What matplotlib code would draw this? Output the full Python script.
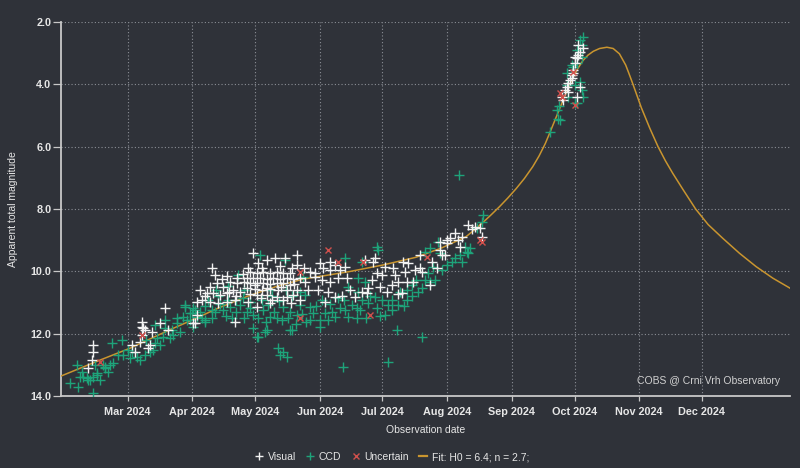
import numpy as np
import matplotlib
matplotlib.use("Agg")
import matplotlib.pyplot as plt
import matplotlib.dates as mdates
from matplotlib.lines import Line2D

# ---------------- data (day of year 2024, 0 = Jan 1; magnitude) ----------------
ccd_day = [35.6, 38.7, 32.4, 36.3, 40.4, 43.5, 45.2, 42.0, 38.0, 44.3, 48.3, 51.5, 53.1, 49.1, 43.5,
           52.3, 57.1, 57.9, 61.1, 61.9, 64.3, 65.9, 68.3, 70.7, 73.1, 73.9, 75.5, 77.1, 80.3, 81.8,
           85.1, 83.5, 87.4, 88.3, 90.7, 92.2, 91.4, 93.0, 77.9, 73.1, 72.3, 37.2, 41.1, 45.2, 49.1,
           86.6, 89.8, 87.4, 97.0, 83.5, 89.8, 95.5, 97.0, 91.4, 94.6, 101.8, 105.8, 109.0, 113.8, 113.0,
           117.0, 120.2, 124.9, 128.2, 131.4, 137.7, 141.0, 134.5, 120.2, 126.6, 137.7, 122.6, 132.1, 134.5, 132.9,
           136.2, 123.4, 135.3, 144.1, 147.3, 147.3, 148.9, 142.5, 115.4, 118.6, 125.8, 138.5, 121.8,
           179.3, 180.0, 164.1, 172.1, 170.5, 173.7, 165.7, 170.5, 178.5, 181.7, 186.5, 175.2, 167.3, 161.7,
           164.1, 157.7, 169.7, 179.3, 184.8, 154.5, 159.3, 165.7, 169.7, 183.2, 189.6, 152.1, 156.1, 152.1,
           188.8, 200.8, 163.3, 184.8, 196.0, 200.8, 204.8, 204.0, 206.4, 212.8, 202.4, 204.8, 208.8, 219.2,
           222.4, 220.0, 216.8, 194.0, 190.4, 199.2, 193.6, 202.4, 229.6, 227.2, 223.1, 221.6, 230.3, 209.6, 218.7,
           262.3, 266.2, 266.7, 270.3, 273.4, 276.6, 278.2, 277.5, 276.6, 277.5, 278.2, 275.1, 271.0, 275.1,
           265.5, 270.3, 277.5, 275.1, 272.7, 267.1, 274.3,
           98.5, 103.3, 108.0, 110.0, 100.4, 115.7, 124.4, 129.2, 132.5, 138.7, 142.5, 127.2, 145.0,
           97.0, 100.4, 104.2, 107.1, 111.9, 115.7, 118.6, 122.5, 126.2, 130.1, 133.9, 136.8, 140.6, 143.5,
           145.5, 150.2, 153.1, 156.9, 160.8, 163.6, 172.2, 176.1, 171.3, 174.2, 180.8, 186.6, 192.4, 196.3,
           198.2, 207.4, 210.5, 215.4, 224.0, 111.9, 128.2, 135.7, 102.3, 108.0,
           46.7, 50.6, 55.4, 60.1, 68.8, 77.9, 81.2, 274.2]
ccd_mag = [13.00, 13.38, 13.59, 13.70, 13.43, 13.38, 13.27, 13.48, 13.22, 13.00, 13.00, 13.00, 12.95, 13.11, 13.91,
           12.31, 12.20, 12.68, 12.79, 12.58, 12.74, 12.84, 12.68, 12.58, 12.31, 12.15, 12.36, 12.10, 12.15, 12.04,
           11.94, 11.67, 11.08, 11.56, 11.35, 11.24, 11.78, 11.45, 11.83, 11.72, 12.52, 13.38, 13.48, 13.33, 13.06,
           11.45, 11.35, 11.13, 11.61, 11.51, 11.56, 11.50, 11.56, 11.18, 11.29, 11.29, 11.24, 11.13, 11.08, 10.12,
           11.29, 11.40, 11.24, 11.45, 11.51, 11.29, 11.40, 11.13, 11.83, 11.88, 11.88, 12.10, 12.47, 12.58, 12.68,
           12.74, 9.47, 9.64, 10.17, 11.13, 11.56, 11.35, 11.08, 10.86, 10.97, 11.94, 11.88, 12.10,
           9.21, 9.31, 9.58, 9.69, 10.22, 10.33, 10.49, 10.65, 10.81, 10.92, 10.92, 11.02, 11.08, 11.18,
           11.24, 11.29, 11.18, 11.18, 11.08, 11.35, 11.45, 11.45, 11.51, 11.40, 11.08, 11.56, 11.56, 11.78,
           11.88, 12.10, 13.06, 12.90, 10.44, 10.54, 10.33, 10.06, 9.85, 9.80, 9.37, 9.26, 9.05, 9.47,
           9.37, 9.69, 9.58, 10.60, 10.65, 10.65, 10.92, 10.28, 8.41, 8.62, 9.42, 9.21, 8.19, 9.42, 6.91,
           5.52, 5.11, 4.69, 3.65, 3.43, 2.58, 2.47, 3.11, 3.92, 4.18, 4.40, 4.61, 4.40, 3.32,
           4.82, 4.02, 2.74, 2.90, 3.38, 5.14, 4.61,
           10.92, 10.79, 10.92, 11.50, 11.50, 10.60, 10.92, 10.79, 10.95, 10.79, 10.66, 11.08, 10.76,
           11.11, 11.24, 11.05, 11.43, 11.30, 11.50, 11.18, 11.50, 11.62, 11.30, 11.56, 11.50, 11.69, 11.37,
           11.62, 11.11, 10.92, 11.05, 10.85, 10.92, 10.92, 10.79, 11.24, 11.50, 11.43, 11.24, 11.11, 10.79,
           10.28, 10.28, 9.96, 9.70, 9.25, 10.92, 10.60, 10.60, 10.60, 10.47,
           13.49, 13.23, 12.68, 12.52, 12.20, 11.56, 11.88, 4.02]

vis_day = [41.1, 42.8, 43.5, 43.5, 61.9, 63.5, 65.9, 66.7, 66.7, 66.7, 68.3, 69.9, 70.7, 71.5, 75.5,
           77.9, 79.4, 93.0, 91.4, 67.5,
           120.2, 141.0, 135.3, 130.6, 126.6, 122.6, 141.0, 100.2, 101.8, 107.4, 112.2, 118.6, 121.8, 124.9,
           128.2, 131.4, 134.5, 137.7, 117.0, 120.2, 123.4, 126.6, 129.7, 133.0, 136.2, 139.3, 118.6, 121.8,
           124.9, 128.2, 131.4, 134.5, 137.7, 117.0, 121.0, 124.2, 128.2, 132.1, 136.2, 141.0, 121.8, 126.6,
           131.4, 136.2, 139.3, 117.8, 128.2, 99.4, 102.6, 105.8, 97.8, 101.0, 104.2, 107.4, 110.6, 95.4,
           99.4, 103.4, 107.4, 111.4, 112.2, 109.0, 92.2, 111.4, 147.3, 149.7, 144.9, 146.5, 142.5, 121.8,
           152.1, 153.7, 149.7, 156.9, 159.3, 161.7, 164.1, 152.9, 156.9, 160.9, 164.9, 151.3, 156.1, 159.3,
           154.5, 178.5, 183.2, 187.2, 181.7, 179.3, 188.0, 192.0, 194.4, 192.8, 197.6, 200.8, 189.6, 193.6,
           196.8, 186.5, 175.2, 180.8, 184.0, 174.5, 168.9, 191.2, 204.8, 208.0, 200.0, 209.6, 210.4, 212.8,
           216.8, 218.4, 220.0, 223.1, 226.3, 229.6, 173.7, 177.6, 209.6, 212.0, 214.4, 219.2, 224.8, 228.7,
           212.8,
           269.5, 270.3, 271.9, 272.7, 273.4, 274.3, 275.1, 275.8, 276.6, 277.9, 268.6, 275.1, 276.6, 274.3,
           271.0, 273.4, 272.7,
           117.6, 124.3, 132.9, 138.7, 121.0, 115.7, 126.7, 133.4, 139.6, 118.6, 124.0, 129.2, 134.4, 138.2,
           113.8, 111.8, 115.2, 142.5, 144.5, 108.5, 105.2, 97.0, 94.6, 93.2,
           156.9, 166.5, 162.6, 172.2, 176.9, 189.5, 200.0, 205.8, 275.7, 270.8, 268.1]
vis_mag = [13.11, 12.84, 12.58, 12.36, 12.36, 12.58, 12.26, 12.04, 11.78, 11.61, 11.88, 12.47, 12.36, 11.94, 11.67,
           11.18, 11.88, 11.40, 11.67, 11.83,
           9.40, 9.47, 9.58, 9.58, 9.64, 9.74, 9.80, 9.90, 10.12, 10.15, 10.22, 10.01, 10.06, 10.01,
           10.06, 10.01, 10.06, 10.06, 10.22, 10.22, 10.22, 10.25, 10.22, 10.25, 10.22, 10.25, 10.38, 10.38,
           10.38, 10.40, 10.38, 10.38, 10.44, 10.54, 10.58, 10.60, 10.58, 10.60, 10.60, 10.60, 10.76, 10.76,
           10.81, 10.81, 10.76, 10.97, 11.02, 10.49, 10.38, 10.49, 10.70, 10.70, 10.76, 10.70, 10.60, 10.92,
           10.97, 11.02, 10.97, 10.92, 10.38, 10.33, 11.67, 11.61, 10.01, 10.17, 10.33, 10.60, 10.92, 11.13,
           9.74, 9.90, 10.06, 9.96, 9.80, 9.96, 9.85, 10.28, 10.33, 10.22, 10.22, 10.60, 10.65, 10.81,
           10.97, 9.58, 9.85, 9.90, 10.12, 10.06, 10.12, 9.69, 9.74, 10.01, 9.96, 10.01, 10.33, 10.33,
           10.33, 10.44, 10.54, 10.49, 10.65, 10.70, 10.81, 10.70, 10.44, 9.90, 9.47, 9.31, 9.47, 9.10,
           8.78, 8.99, 8.89, 8.51, 8.57, 8.89, 9.64, 9.69, 9.05, 9.47, 8.94, 9.21, 8.65, 8.62,
           8.99,
           4.18, 4.08, 3.86, 3.70, 3.54, 3.32, 3.16, 3.06, 2.95, 2.84, 4.50, 4.40, 4.08, 3.11,
           3.97, 3.65, 3.81,
           9.89, 9.89, 9.83, 9.89, 10.44, 10.34, 10.53, 10.50, 10.41, 10.73, 10.85, 10.92, 10.92, 11.01,
           10.66, 10.79, 10.08, 10.21, 9.89, 10.66, 10.25, 10.79, 10.60, 10.98,
           9.70, 10.60, 10.79, 10.66, 10.28, 10.73, 9.89, 9.70, 2.74, 4.25, 4.41]

unc_day = [46.7, 66.7, 142.5, 142.5, 156.1, 160.9, 172.8, 203.2, 228.7, 229.7, 176.0,
           267.1, 267.9, 274.3, 273.4]
unc_mag = [12.90, 12.04, 10.01, 11.51, 9.31, 9.69, 9.69, 9.53, 8.99, 9.05, 11.40,
           4.29, 4.40, 4.66, 3.59]

fit_day = [28.05, 47, 61, 80, 91, 103, 117, 131, 144, 156, 166, 182, 198, 210, 222, 226, 230, 234,
           238, 242, 246, 250, 254, 257, 260, 262, 264.5, 267, 270, 273, 275.5, 278, 280.5, 283, 286,
           289.5, 292.5, 295.5, 298.5, 300, 302, 306, 310, 314, 317.5, 321, 326, 332, 338, 345, 353, 361,
           369, 377.2]
fit_mag = [13.36, 12.84, 12.47, 11.88, 11.56, 11.19, 10.81, 10.49, 10.25, 10.12, 10.01, 9.80, 9.55, 9.26,
           8.89, 8.67, 8.44, 8.19, 7.93, 7.65, 7.35, 7.02, 6.64, 6.30, 5.90, 5.58, 5.17, 4.76, 4.27, 3.82,
           3.50, 3.24, 3.06, 2.94, 2.85, 2.81, 2.85, 3.02, 3.38, 3.64, 4.00, 4.75, 5.40, 6.00, 6.45, 6.85, 7.38,
           8.00, 8.50, 8.94, 9.42, 9.85, 10.22, 10.54]

month_ticks = ['2024-03-01', '2024-04-01', '2024-05-01', '2024-06-01', '2024-07-01',
               '2024-08-01', '2024-09-01', '2024-10-01', '2024-11-01', '2024-12-01']
y_ticks = [2.0, 4.0, 6.0, 8.0, 10.0, 12.0, 14.0]
x_start, x_end = 28.05, 377.2

# ---------------- style ----------------
BG = '#2f3239'
FG = '#e6e6e6'
GRID = '#8b8f96'
C_VIS = '#f2f2f2'
C_CCD = '#1ea37a'
C_UNC = '#d0504c'
C_FIT = '#c9952f'

plt.rcParams['font.family'] = ['Liberation Sans', 'DejaVu Sans']

base = mdates.datestr2num('2024-01-01')
def tx(d):
    return base + np.asarray(d, dtype=float)

fig = plt.figure(figsize=(8, 4.68), dpi=100, facecolor=BG)
ax = fig.add_axes([61/800, 1-396/468, (790-61)/800, (396-22)/468], facecolor=BG)

ax.plot(tx(fit_day), fit_mag, color=C_FIT, lw=1.1, zorder=3)
ax.plot(tx(ccd_day), ccd_mag, ls='none', marker='+', ms=6.8, mew=1.0, color=C_CCD, zorder=4)
ax.plot(tx(vis_day), vis_mag, ls='none', marker='+', ms=6.8, mew=1.0, color=C_VIS, zorder=5)
ax.plot(tx(unc_day), unc_mag, ls='none', marker='x', ms=4.5, mew=1.0, color=C_UNC, zorder=6)

ax.set_xlim(tx(x_start), tx(x_end))
ax.set_ylim(14.0, 2.0)
ax.set_yticks(y_ticks)
ax.set_yticklabels([f'{v:.1f}' for v in y_ticks])
ax.set_xticks([mdates.datestr2num(d) for d in month_ticks])
ax.xaxis.set_major_formatter(mdates.DateFormatter('%b %Y'))

for s in ['top', 'right']:
    ax.spines[s].set_visible(False)
for s in ['left', 'bottom']:
    ax.spines[s].set_color('#c8c8c8')
    ax.spines[s].set_linewidth(1.3)

ax.grid(True, color=GRID, ls=(0, (1, 2)), lw=0.8)
ax.set_axisbelow(True)
ax.tick_params(axis='y', colors='#c8c8c8', labelcolor=FG, length=5.5, width=0.9, pad=1.5,
               labelsize=7.8)
ax.tick_params(axis='x', colors='#c8c8c8', labelcolor=FG, length=3.6, width=0.9, pad=4,
               labelsize=7.8)
for lbl in ax.get_yticklabels() + ax.get_xticklabels():
    lbl.set_fontweight('bold')

ax.set_ylabel('Apparent total magnitude', color=FG, fontsize=7.5, labelpad=9)
ax.set_xlabel('Observation date', color=FG, fontsize=7.5, labelpad=6)

ax.text(0.9865, 0.04, 'COBS @ Crni Vrh Observatory', transform=ax.transAxes,
        ha='right', va='center', color='#d0d0d0', fontsize=7.5)

handles = [
    Line2D([], [], ls='none', marker='+', ms=6, mew=1.0, color=C_VIS),
    Line2D([], [], ls='none', marker='+', ms=6, mew=1.0, color=C_CCD),
    Line2D([], [], ls='none', marker='x', ms=4.5, mew=1.0, color=C_UNC),
    Line2D([], [], color=C_FIT, lw=1.6),
]
labels = ['Visual', 'CCD', 'Uncertain', 'Fit: H0 = 6.4; n = 2.7;']
leg = fig.legend(handles, labels, loc='center', bbox_to_anchor=(392/800, 1-457/468), ncol=4,
                 frameon=False, fontsize=7.5, handlelength=0.8, handletextpad=0.4,
                 columnspacing=1.0)
for t in leg.get_texts():
    t.set_color(FG)

fig.savefig('out.png', dpi=100, facecolor=BG)
